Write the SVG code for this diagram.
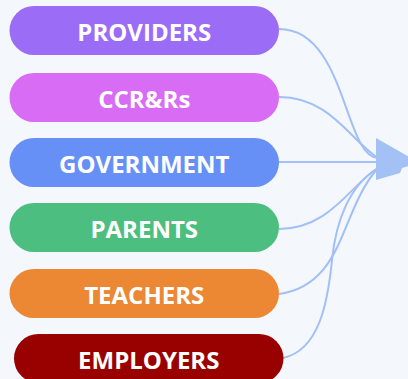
<svg xmlns="http://www.w3.org/2000/svg" width="408" height="379" viewBox="0 0 408 379">
<style>
.bg{fill:#f4f7fb}
.lbl{font-family:"Open Sans","Liberation Sans",sans-serif;font-weight:700;font-size:24px;fill:#ffffff;text-anchor:middle}
.link{fill:none;stroke:#a2bff7;stroke-width:2}
</style>
<defs>
<marker id="ah" markerUnits="userSpaceOnUse" markerWidth="60" markerHeight="60" refX="0" refY="0" orient="auto" overflow="visible">
<path d="M0,-24 L44,1 L26,6 L24,11 L0,18 Z" fill="#a3c1f4"/>
</marker>
</defs>
<rect class="bg" x="0" y="0" width="408" height="379"/>
<g id="connectors">
<path class="link" d="M279,29 C346,29 344,157 378,158"/>
<path class="link" d="M279,97 C330,97 350,140 378,158"/>
<path class="link" d="M279,229 C330,229 350,185 378,168"/>
<path class="link" d="M279,294 C345,285 340,210 378,168"/>
<path class="link" d="M283,358 C320,350 328,300 332,260 S350,185 378,168"/>
<path class="link" d="M279,162 L376,162" marker-end="url(#ah)"/>
</g>
<g id="providers">
<rect x="9.5" y="6" width="269.5" height="49" rx="24.5" fill="#9b6cf5"/>
<text class="lbl" x="144.25" y="40.5">PROVIDERS</text>
</g>
<g id="ccrrs">
<rect x="9.5" y="73" width="269.5" height="49" rx="24.5" fill="#d96cf5"/>
<text class="lbl" x="144.25" y="107.5">CCR&amp;Rs</text>
</g>
<g id="government">
<rect x="9.5" y="138" width="269.5" height="49" rx="24.5" fill="#6690f5"/>
<text class="lbl" x="144.25" y="172.5">GOVERNMENT</text>
</g>
<g id="parents">
<rect x="9.5" y="203" width="269.5" height="49" rx="24.5" fill="#4cbf80"/>
<text class="lbl" x="144.25" y="237.5">PARENTS</text>
</g>
<g id="teachers">
<rect x="9.5" y="269" width="269.5" height="49" rx="24.5" fill="#ec8734"/>
<text class="lbl" x="144.25" y="303.5">TEACHERS</text>
</g>
<g id="employers">
<rect x="14" y="334" width="269.5" height="49" rx="24.5" fill="#990000"/>
<text class="lbl" x="148.75" y="368.5">EMPLOYERS</text>
</g>
</svg>
